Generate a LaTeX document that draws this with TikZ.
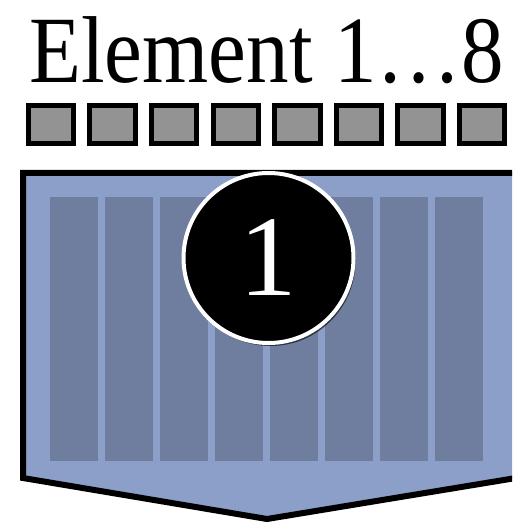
\documentclass[tikz,border=0pt]{standalone}
\usepackage{fontspec}
\setmainfont{Liberation Serif}
\usetikzlibrary{shadows}
\definecolor{panelblue}{HTML}{8B9FC9}
\definecolor{coldark}{HTML}{6F7E9F}
\definecolor{cellgray}{HTML}{939393}
\tikzset{
  cell/.style={rectangle, draw=black, line width=5pt, fill=cellgray, minimum width=45.5pt, minimum height=38pt, inner sep=0pt},
  panel/.style={fill=panelblue, draw=black, line width=6pt, line join=miter},
  colbar/.style={fill=coldark, draw=none},
  badge/.style={circle, fill=black, draw=white, line width=4pt, minimum size=170pt, inner sep=0pt, text=white,
    font=\fontsize{115}{115}\selectfont,
    drop shadow={shadow xshift=2pt, shadow yshift=-3pt, opacity=0.6, fill=black}},
  title/.style={font=\fontsize{95}{95}\selectfont, inner sep=0pt, anchor=base, xscale=0.895}
}
\begin{document}
\begin{tikzpicture}[x=1pt,y=-1pt]
\useasboundingbox (0,0) rectangle (512,529);
\clip (0,0) rectangle (512,529);
\fill[white] (0,0) rectangle (512,529);
\node[title] (head) at (266.7,83) {Element 1…8};
\foreach \i in {0,...,7} {
  \node[cell] (c\i) at ({51+61.6*\i},124.5) {};
}
\path[panel] (23,173) -- (516,173) -- (516,478) -- (267,519) -- (23,478) -- cycle;
\foreach \i in {0,...,7} {
  \fill[colbar] ({50+55*\i},197) rectangle ({98+55*\i},461);
}
\node[badge] (num) at (268.5,258) {1};
\end{tikzpicture}
\end{document}
